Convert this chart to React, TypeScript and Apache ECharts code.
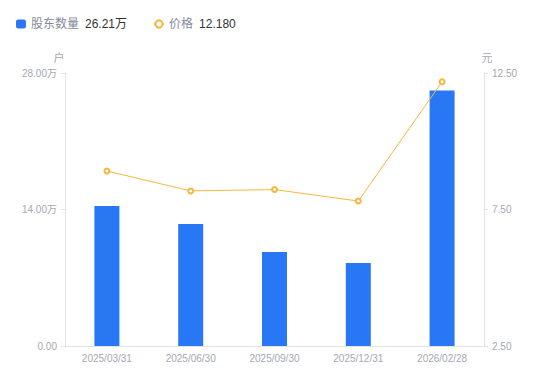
import React, { useEffect, useRef } from "react";
import * as echarts from "echarts";

const categories = ["2025/03/31", "2025/06/30", "2025/09/30", "2025/12/31", "2026/02/28"];
const holders = [14.36, 12.51, 9.64, 8.51, 26.21]; // 万户
const prices = [8.91, 8.18, 8.23, 7.81, 12.18];
const leftTicks = { min: 0, max: 28, interval: 14 };
const rightTicks = { min: 2.5, max: 12.5, interval: 5 };

export default function App() {
  const ref = useRef<HTMLDivElement>(null);
  useEffect(() => {
    const chart = echarts.init(ref.current!, null, { renderer: "svg" });
    const labelColor = "#a4a7b3";
    const font = "'Liberation Sans', 'Noto Sans CJK SC', sans-serif";
    chart.setOption({
      animation: false,
      textStyle: { fontFamily: font },
      legend: {
        left: 16,
        top: 18,
        padding: 0,
        itemWidth: 10,
        itemHeight: 9,
        itemGap: 26,
        data: [
          { name: "股东数量", icon: "roundRect" },
          { name: "价格" },
        ],
        formatter: (name: string) => {
          if (name === "股东数量") return `{n|${name}}{v|${holders[holders.length - 1].toFixed(2)}万}`;
          return `{n|${name}}{v|${prices[prices.length - 1].toFixed(3)}}`;
        },
        textStyle: {
          rich: {
            n: { color: "#868a99", fontSize: 12, padding: [0, 6, 0, 0], fontFamily: font },
            v: { color: "#333333", fontSize: 12, fontFamily: font },
          },
        },
      },
      grid: { left: 65, right: 66, top: 73, bottom: 35 },
      xAxis: {
        type: "category",
        data: categories,
        axisLine: { lineStyle: { color: "#e3e3e3" } },
        axisTick: { show: false },
        axisLabel: { color: labelColor, fontSize: 10, margin: 7 },
      },
      yAxis: [
        {
          type: "value",
          name: "户",
          nameGap: 10,
          nameTextStyle: { color: labelColor, fontSize: 11, padding: [0, 12, 0, 0] },
          min: leftTicks.min,
          max: leftTicks.max,
          interval: leftTicks.interval,
          axisLine: { show: true, lineStyle: { color: "#e3e3e3" } },
          axisTick: { show: true, length: 4, lineStyle: { color: "#e3e3e3" } },
          splitLine: { show: false },
          axisLabel: {
            color: labelColor,
            fontSize: 10,
            margin: 8,
            formatter: (v: number) => (v === 0 ? "0.00" : v.toFixed(2) + "万"),
          },
        },
        {
          type: "value",
          name: "元",
          nameGap: 10,
          nameTextStyle: { color: labelColor, fontSize: 11, padding: [0, 0, 0, 6] },
          min: rightTicks.min,
          max: rightTicks.max,
          interval: rightTicks.interval,
          position: "right",
          axisLine: { show: true, lineStyle: { color: "#e3e3e3" } },
          axisTick: { show: true, length: 4, lineStyle: { color: "#e3e3e3" } },
          splitLine: { show: false },
          axisLabel: {
            color: labelColor,
            fontSize: 10,
            margin: 8,
            formatter: (v: number) => v.toFixed(2),
          },
        },
      ],
      series: [
        {
          name: "股东数量",
          type: "bar",
          data: holders,
          barWidth: 25,
          itemStyle: { color: "#2878f6" },
        },
        {
          name: "价格",
          type: "line",
          yAxisIndex: 1,
          data: prices,
          symbol: "emptyCircle",
          symbolSize: 5,
          lineStyle: { color: "#f7b63c", width: 1 },
          itemStyle: { color: "#f7b63c", borderWidth: 1.5 },
        },
      ],
    });
    return () => chart.dispose();
  }, []);
  return (
    <div
      ref={ref}
      style={{ position: "absolute", left: 0, top: 0, width: 550, height: 381 }}
    />
  );
}
